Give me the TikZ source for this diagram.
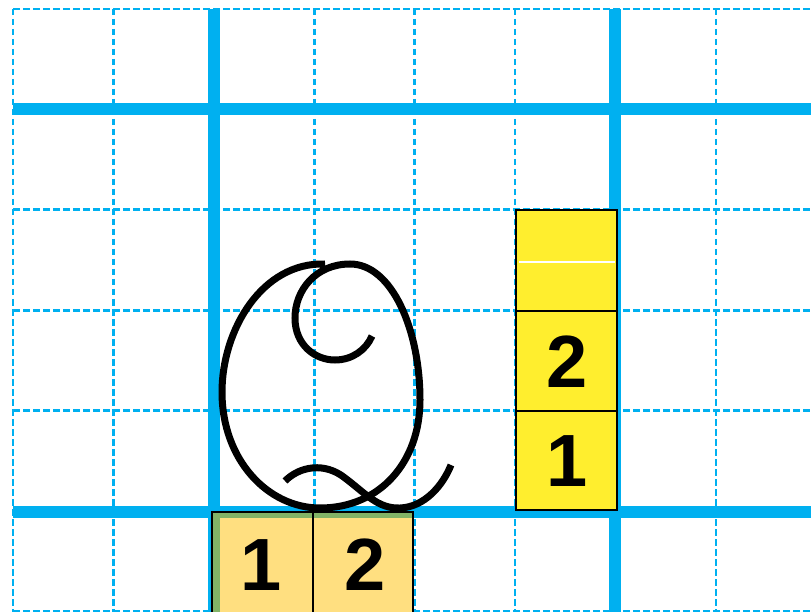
\documentclass[tikz,border=0pt]{standalone}
\usepackage{fontspec}
\setmainfont{Liberation Sans}
\definecolor{gridblue}{HTML}{00B0F0}
\definecolor{boxgreen}{HTML}{82B366}
\definecolor{boxyellow}{HTML}{FFDF80}
\definecolor{colyellow}{HTML}{FFEE2E}
\begin{document}
\begin{tikzpicture}[x=1pt,y=-1pt,
  thin grid/.style={gridblue, line width=2.6pt, dash pattern=on 6.5pt off 3.5pt},
  thick grid/.style={gridblue, line width=12pt},
  digit/.style={font=\fontsize{74}{74}\selectfont\bfseries, inner sep=0pt, text=black},
  cellborder/.style={draw=black, line width=2.2pt},
  qstroke/.style={draw=black, line width=7pt, line cap=butt}]
\useasboundingbox (0,0) rectangle (811,612);
\fill[white] (0,0) rectangle (811,612);
% thin dashed grid
\foreach \x in {13,113.4,314.2,414.6,515,715.8}
  \draw[thin grid] (\x,9) -- (\x,616);
\foreach \y in {9,209.8,310.2,410.6,611.4}
  \draw[thin grid] (13,\y) -- (815,\y);
% thick grid
\foreach \x in {213.8,615.4}
  \draw[thick grid] (\x,9) -- (\x,616);
\foreach \y in {109.4,511.5}
  \draw[thick grid] (13,\y) -- (815,\y);
% yellow column
\fill[colyellow] (516,210) rectangle (617,510);
\draw[white, line width=1.5pt] (519,262) -- (615,262);
\draw[cellborder] (516,210) rectangle (617,510);
\draw[cellborder] (516,311) -- (617,311);
\draw[cellborder] (516,410.6) -- (617,410.6);
\node[digit] (c2) at (567,362) {2};
\node[digit] (c1) at (567,461) {1};
% bottom boxes
\fill[boxgreen] (212,512) rectangle (413,615);
\fill[boxyellow] (220,518) rectangle (413,615);
\draw[cellborder] (212,512) rectangle (413,615);
\draw[cellborder] (313,512) -- (313,615);
\node[digit] (b1) at (261,565) {1};
\node[digit] (b2) at (365,565) {2};
% the letter Q
\draw[qstroke] (325,264) .. controls (262,262) and (222,330) .. (222,392)
  .. controls (222,460) and (268,508) .. (320,508)
  .. controls (380,508) and (420,462) .. (420,400)
  .. controls (420,330) and (392,264) .. (350,264)
  .. controls (316,264) and (295,290) .. (295,318)
  .. controls (295,345) and (315,360) .. (335,360)
  .. controls (352,360) and (366,350) .. (372,336);
\draw[qstroke] (285,481) .. controls (300,466) and (325,462) .. (345,478)
  .. controls (365,493) and (378,509) .. (400,508)
  .. controls (425,507) and (443,485) .. (451,465);
\end{tikzpicture}
\end{document}
